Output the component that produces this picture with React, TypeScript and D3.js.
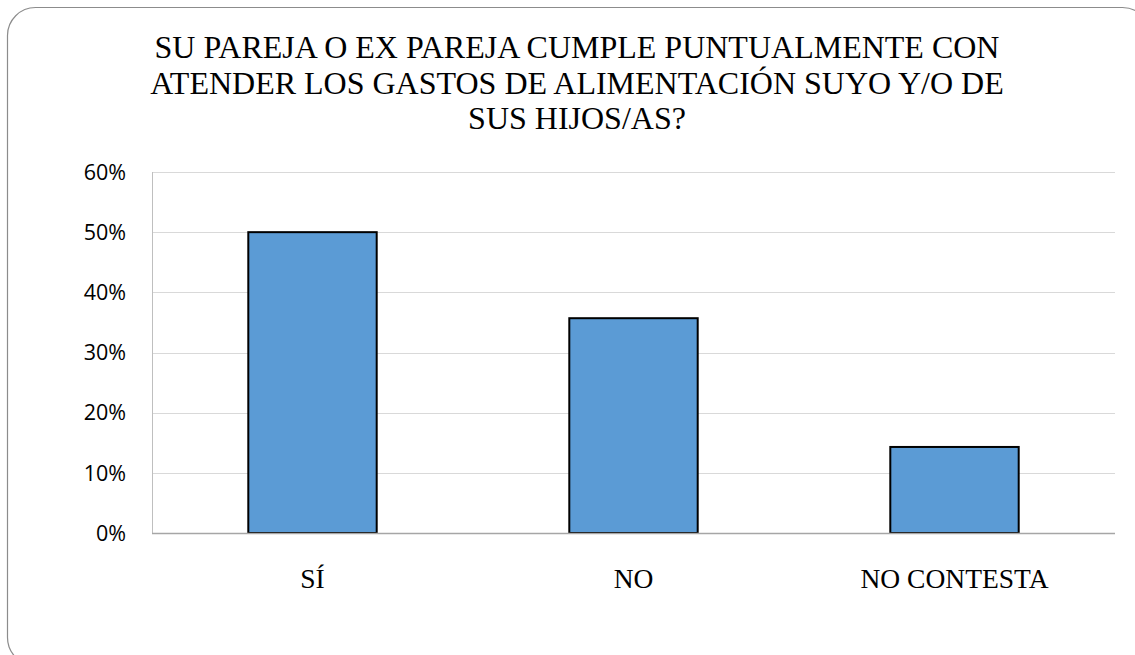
import React from "react";
import * as d3 from "d3";

const categories = ["SÍ", "NO", "NO CONTESTA"];
const values = [0.5, 0.357, 0.143];
const yTicks = [0, 0.1, 0.2, 0.3, 0.4, 0.5, 0.6];
const titleLines = [
  "SU PAREJA O EX PAREJA CUMPLE PUNTUALMENTE CON",
  "ATENDER LOS GASTOS DE ALIMENTACIÓN SUYO Y/O DE",
  "SUS HIJOS/AS?",
];

export default function App() {
  const W = 1135;
  const H = 655;
  const left = 152;
  const right = 1115;
  const top = 172;
  const bottom = 533;

  const x = d3
    .scaleBand<string>()
    .domain(categories)
    .range([left, right])
    .paddingInner(0.6)
    .paddingOuter(0.3);
  const y = d3.scaleLinear().domain([0, 0.6]).range([bottom, top]);
  const fmt = d3.format(".0%");
  const cx = 577;

  return (
    <div style={{ position: "absolute", left: 0, top: 0, width: W, height: H }}>
      <svg width={W} height={H} style={{ display: "block" }}>
        <rect x={0} y={0} width={W} height={H} fill="#ffffff" />
        <rect
          x={7.5}
          y={7.5}
          width={1143}
          height={658}
          rx={28}
          ry={28}
          fill="none"
          stroke="#8c8c8c"
          strokeWidth={1.2}
        />
        {titleLines.map((t, i) => (
          <text
            key={i}
            x={cx}
            y={58 + i * 35.5}
            textAnchor="middle"
            fontFamily="Liberation Serif, serif"
            fontSize={32}
            fill="#000"
          >
            {t}
          </text>
        ))}
        {yTicks.map((t) => (
          <g key={t}>
            {t > 0 && (
              <line
                x1={left}
                x2={right}
                y1={Math.round(y(t)) + 0.5}
                y2={Math.round(y(t)) + 0.5}
                stroke="#d9d9d9"
                strokeWidth={1}
              />
            )}
            <text
              x={126}
              y={y(t)}
              dy="0.36em"
              textAnchor="end"
              fontFamily="'Open Sans', sans-serif"
              fontSize={21.5}
              fill="#000"
            >
              {fmt(t)}
            </text>
          </g>
        ))}
        <line
          x1={left + 0.5}
          x2={left + 0.5}
          y1={top}
          y2={bottom}
          stroke="#bfbfbf"
          strokeWidth={1}
        />
        {categories.map((c, i) => (
          <rect
            key={c}
            x={x(c)}
            y={y(values[i])}
            width={x.bandwidth()}
            height={bottom - y(values[i])}
            fill="#5b9bd5"
            stroke="#000"
            strokeWidth={2}
          />
        ))}
        <line
          x1={left}
          x2={right}
          y1={bottom + 0.5}
          y2={bottom + 0.5}
          stroke="#a6a6a6"
          strokeWidth={1.5}
        />
        {categories.map((c) => (
          <text
            key={c}
            x={(x(c) as number) + x.bandwidth() / 2}
            y={588}
            textAnchor="middle"
            fontFamily="Liberation Serif, serif"
            fontSize={27.5}
            fill="#000"
          >
            {c}
          </text>
        ))}
      </svg>
    </div>
  );
}
